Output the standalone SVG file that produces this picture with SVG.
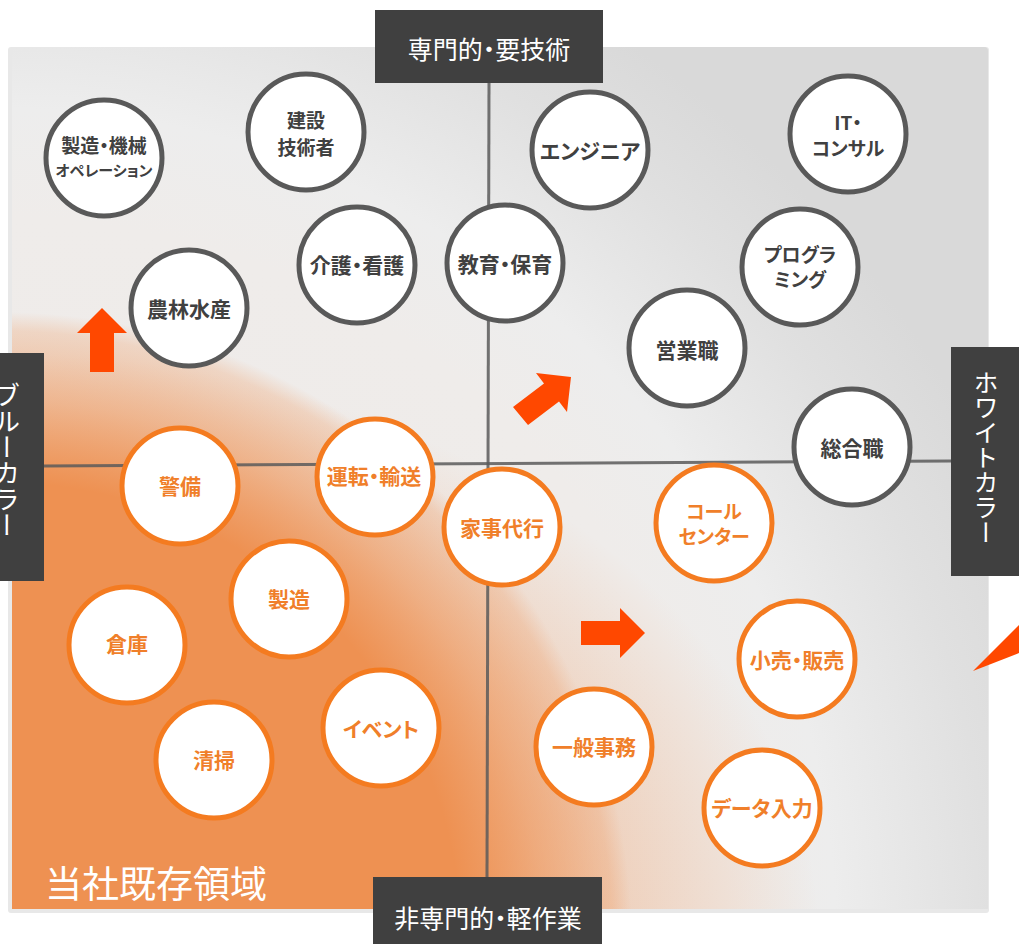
<svg xmlns="http://www.w3.org/2000/svg" width="1019" height="944" viewBox="0 0 1019 944">
<defs>
<radialGradient id="bg" gradientUnits="userSpaceOnUse" cx="0" cy="944" r="1100">
<stop offset="0" stop-color="#EEEAE7"/>
<stop offset="0.66" stop-color="#EFECEA"/>
<stop offset="0.76" stop-color="#EDEDED"/>
<stop offset="0.90" stop-color="#E0E0E0"/>
<stop offset="1" stop-color="#D9D9D9"/>
</radialGradient>
<radialGradient id="orA" gradientUnits="userSpaceOnUse" cx="0" cy="944" r="632">
<stop offset="0" stop-color="#EE9152" stop-opacity="1"/>
<stop offset="0.73" stop-color="#EE9152" stop-opacity="1"/>
<stop offset="0.86" stop-color="#EE9152" stop-opacity="0.55"/>
<stop offset="0.97" stop-color="#EE9152" stop-opacity="0.25"/>
<stop offset="1" stop-color="#EE9152" stop-opacity="0"/>
</radialGradient>
<radialGradient id="orB" gradientUnits="userSpaceOnUse" cx="0" cy="944" r="820" gradientTransform="translate(0 944) scale(1 0.72) translate(0 -944)">
<stop offset="0" stop-color="#EE9152" stop-opacity="0.45"/>
<stop offset="0.6" stop-color="#EE9152" stop-opacity="0.45"/>
<stop offset="0.75" stop-color="#EE9152" stop-opacity="0.3"/>
<stop offset="0.9" stop-color="#EE9152" stop-opacity="0.12"/>
<stop offset="1" stop-color="#EE9152" stop-opacity="0"/>
</radialGradient>
<style>
.g circle{fill:#FFFFFF;stroke:#595959;stroke-width:5}
.o circle{fill:#FFFFFF;stroke:#F47B20;stroke-width:5}
.g text{fill:#404040}
.o text{fill:#F07F2A}
.n text{font-family:"Noto Sans CJK JP","Noto Sans",sans-serif;font-weight:bold;font-size:21px;text-anchor:middle;dominant-baseline:central;font-feature-settings:"palt"}
.n text.t{font-size:19px}
.n text.s{font-size:15px}
.lab rect{fill:#404040}
.lab text{fill:#FFFFFF;font-family:"Noto Sans CJK JP","Noto Sans",sans-serif;font-size:25px;text-anchor:middle;dominant-baseline:central;font-feature-settings:"palt"}
.arr{fill:#FF4800}
.axis{stroke:#5A5A5A;stroke-opacity:0.85;stroke-width:3;fill:none}
</style>
</defs>
<rect x="0" y="0" width="1019" height="944" fill="#FFFFFF"/>
<g id="panel">
<rect x="8" y="47" width="981" height="866" rx="3" fill="#E8E8E8"/>
<path d="M12 47 H984 Q988 47 988 51 V909 H12 Z" fill="url(#bg)"/>
<path d="M12 47 H984 Q988 47 988 51 V909 H12 Z" fill="url(#orB)"/>
<path d="M12 47 H984 Q988 47 988 51 V909 H12 Z" fill="url(#orA)"/>
</g>
<g id="connectors">
<line class="axis" x1="489" y1="82" x2="487" y2="878"/>
<line class="axis" x1="44" y1="466" x2="951" y2="461"/>
</g>
<g id="arrows">
<polygon class="arr" points="102,308 127,333 114,333 114,372 90,372 90,333 77,333"/>
<polygon class="arr" points="513,407 544,383.5 536,373 571,377 567,412 559,401.5 528,425"/>
<polygon class="arr" points="581,621 620,621 620,608 645,633 620,658 620,645 581,645"/>
<polygon class="arr" points="973,671 1019,625 1019,653"/>
</g>
<g id="label-top" class="lab"><rect x="375" y="10" width="228" height="73"/><text x="489" y="48">専門的・要技術</text></g>
<g id="label-bottom" class="lab"><rect x="373" y="877" width="229" height="67"/><text x="488" y="917">非専門的・軽作業</text></g>
<g id="label-left" class="lab"><rect x="0" y="353" width="44" height="228"/><text x="7" y="460" writing-mode="vertical-rl" style="font-size:26px">ブルーカラー</text></g>
<g id="label-right" class="lab"><rect x="951" y="347" width="68" height="229"/><text x="986" y="457" writing-mode="vertical-rl" style="font-size:25px">ホワイトカラー</text></g>
<g id="existing-area"><text x="45" y="898" fill="#FFFFFF" font-family="'Noto Sans CJK JP','Noto Sans',sans-serif" font-size="37">当社既存領域</text></g>

<g id="n-seizo-kikai" class="n g"><circle cx="104" cy="158" r="58"/><text class="t" x="104" y="144">製造・機械</text><text class="s" x="104" y="169">オペレーション</text></g>
<g id="n-kensetsu" class="n g"><circle cx="306" cy="132" r="58"/><text class="t" x="306" y="119">建設</text><text class="t" x="306" y="146">技術者</text></g>
<g id="n-kaigo" class="n g"><circle cx="357" cy="265" r="58"/><text x="357" y="264">介護・看護</text></g>
<g id="n-kyoiku" class="n g"><circle cx="505" cy="263" r="58"/><text x="505" y="263">教育・保育</text></g>
<g id="n-engineer" class="n g"><circle cx="590" cy="150" r="58"/><text x="590" y="150">エンジニア</text></g>
<g id="n-it" class="n g"><circle cx="848" cy="134" r="58"/><text class="t" x="848" y="121">IT・</text><text class="t" x="848" y="147">コンサル</text></g>
<g id="n-program" class="n g"><circle cx="800" cy="267" r="58"/><text class="t" x="800" y="253">プログラ</text><text class="t" x="800" y="278">ミング</text></g>
<g id="n-eigyo" class="n g"><circle cx="687" cy="348" r="58"/><text x="687" y="349">営業職</text></g>
<g id="n-sogo" class="n g"><circle cx="852" cy="447" r="58"/><text x="852" y="447">総合職</text></g>
<g id="n-norin" class="n g"><circle cx="189" cy="308" r="58"/><text x="189" y="308">農林水産</text></g>

<g id="n-keibi" class="n o"><circle cx="180" cy="486" r="58"/><text x="180" y="485">警備</text></g>
<g id="n-unten" class="n o"><circle cx="375" cy="477" r="58"/><text x="374" y="475">運転・輸送</text></g>
<g id="n-kaji" class="n o"><circle cx="502" cy="527" r="58"/><text x="502" y="527">家事代行</text></g>
<g id="n-call" class="n o"><circle cx="714" cy="523" r="58"/><text class="t" x="714" y="510">コール</text><text class="t" x="714" y="535">センター</text></g>
<g id="n-seizo" class="n o"><circle cx="289" cy="599" r="58"/><text x="289" y="598">製造</text></g>
<g id="n-soko" class="n o"><circle cx="127" cy="645" r="58"/><text x="127" y="643">倉庫</text></g>
<g id="n-kouri" class="n o"><circle cx="797" cy="659" r="58"/><text x="797" y="659">小売・販売</text></g>
<g id="n-ippan" class="n o"><circle cx="594" cy="747" r="58"/><text x="594" y="746">一般事務</text></g>
<g id="n-data" class="n o"><circle cx="762" cy="808" r="58"/><text x="762" y="807">データ入力</text></g>
<g id="n-seiso" class="n o"><circle cx="214" cy="760" r="58"/><text x="214" y="759">清掃</text></g>
<g id="n-event" class="n o"><circle cx="381" cy="728" r="58"/><text x="381" y="728">イベント</text></g>
</svg>
